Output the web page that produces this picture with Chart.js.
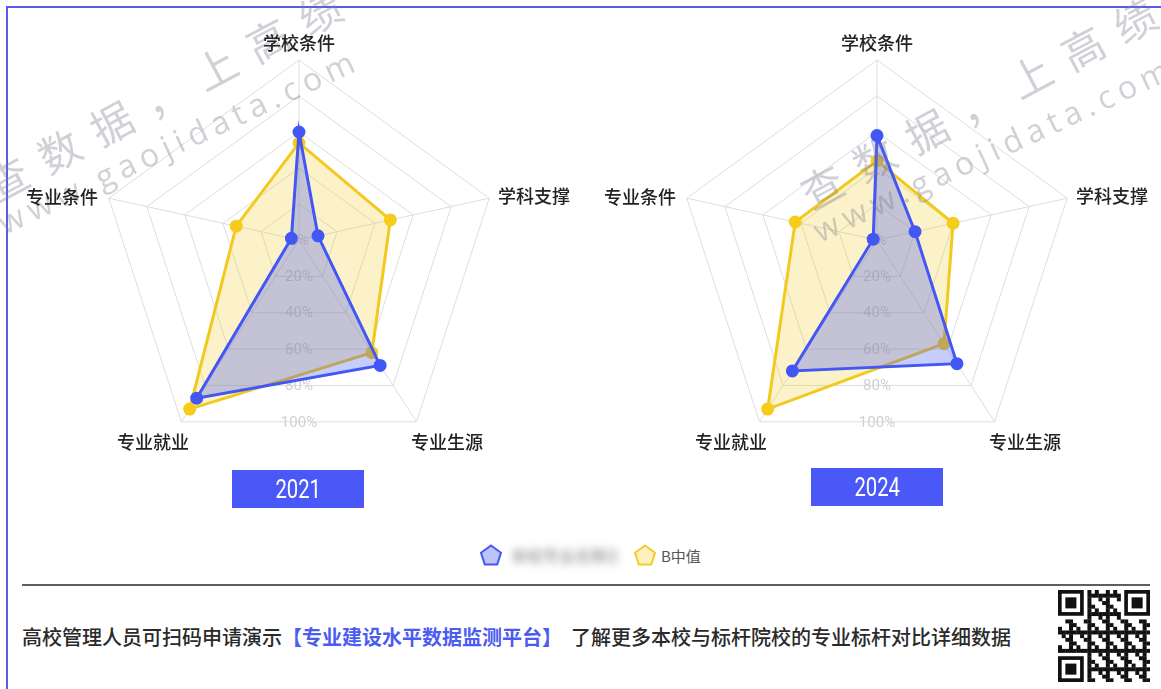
<!DOCTYPE html>
<html lang="zh-CN">
<head>
<meta charset="utf-8">
<title>专业标杆对比</title>
<script src="https://cdn.jsdelivr.net/npm/chart.js@4.4.1/dist/chart.umd.min.js"></script>
<style>
  html, body { margin: 0; padding: 0; background: #fff; }
  body { width: 1161px; height: 689px; position: relative; overflow: hidden;
         font-family: "Noto Sans CJK SC", "Noto Sans", sans-serif; }
  .frame { position: absolute; left: 6px; top: 6px; width: 1170px; height: 720px;
           border: 2px solid #5b5be8; box-sizing: border-box; }
  canvas.radar { position: absolute; top: 40px; }
  .lbl { position: absolute; font-size: 18px; color: #222; white-space: nowrap; line-height: 20px; font-weight: 500; }
  .year { position: absolute; width: 132px; height: 38px; background: #4a58f7; color: #fff;
          font-family: Roboto, sans-serif; font-size: 26px; line-height: 38px; text-align: center; }
  .year span { display: inline-block; transform: scaleX(0.78); }
  .legend { position: absolute; top: 543px; left: 479px; height: 24px; display: flex; align-items: center;
            font-size: 15px; color: #555; }
  .legend svg { display: block; }
  .blur { color: #777; filter: blur(4px); margin: 0 16px 0 8px; width: 106px; font-size: 16px; white-space: nowrap; overflow: hidden; }
  .divider { position: absolute; left: 22px; top: 584px; width: 1128px; height: 2px; background: #5e5e5e; }
  .footer { position: absolute; left: 22px; top: 624px; font-size: 20px; color: #2a2a2a; white-space: nowrap; line-height: 26px; font-weight: 500; }
  .footer b { color: #4b5cf0; font-weight: 700; }
  .footer .rest { margin-left: 9px; }
  .wm { position: absolute; pointer-events: none; color: rgba(125,125,140,0.36); white-space: nowrap; transform-origin: 0 50%; }
  .wm.cn { font-size: 42px; letter-spacing: 17px; line-height: 42px; transform: rotate(-28deg); }
  .wm.url { font-family: "Open Sans", sans-serif; font-size: 32px; letter-spacing: 6px; line-height: 32px; transform: rotate(-25deg); }
  #qr { position: absolute; left: 1058px; top: 590px; }
</style>
</head>
<body>
<div class="frame"></div>

<canvas id="radar2021" class="radar" width="400" height="400" style="left:99px"></canvas>
<canvas id="radar2024" class="radar" width="400" height="400" style="left:677px"></canvas>

<div class="year" style="left:232px; top:470px"><span>2021</span></div>
<div class="year" style="left:811px; top:468px"><span>2024</span></div>

<div class="legend">
  <svg width="24" height="24" viewBox="0 0 24 24"><polygon points="12,2.5 22,9.8 18.2,21.5 5.8,21.5 2,9.8" fill="rgba(66,87,245,0.35)" stroke="#4257f5" stroke-width="2"/></svg>
  <span class="blur">本校专业名称示例</span>
  <svg width="24" height="24" viewBox="0 0 24 24"><polygon points="12,2.5 22,9.8 18.2,21.5 5.8,21.5 2,9.8" fill="rgba(245,205,40,0.3)" stroke="#f2cc2a" stroke-width="2"/></svg>
  <span style="margin-left:4px">B中值</span>
</div>

<div class="divider"></div>
<div class="footer">高校管理人员可扫码申请演示<b>【专业建设水平数据监测平台】</b><span class="rest">了解更多本校与标杆院校的专业标杆对比详细数据</span></div>
<canvas id="qr" width="92" height="92"></canvas>

<div class="wm cn" style="left:-12px; top:166px">查数据，上高绩</div>
<div class="wm url" style="left:0px; top:208px">www.gaojidata.com</div>
<div class="wm cn" style="left:803px; top:174px">查数据，上高绩</div>
<div class="wm url" style="left:815px; top:216px">www.gaojidata.com</div>

<script>
// 维度（顺时针，从顶部开始）
const dimensions = ['学校条件', '学科支撑', '专业生源', '专业就业', '专业条件'];
const tickValues = [0, 20, 40, 60, 80, 100];
const seriesNames = ['本校专业名称', 'B中值'];

// 2021
const school2021 = [60, 10, 69, 87, 4];
const median2021 = [54, 48, 62, 93, 33];
// 2024
const school2024 = [58, 20, 68, 72, 2];
const median2024 = [44, 40, 57, 93, 43];

// 原图的雷达网格中心略靠上，越往外越往下偏
const SKEW = 0.1;
const BaseRadial = Chart.RadialLinearScale || Chart.registry.getScale('radialLinear');
class SkewRadialScale extends BaseRadial {
    getPointPosition(index, distance, additionalAngle) {
        const p = super.getPointPosition(index, distance, additionalAngle || 0);
        return { x: p.x, y: p.y + distance * SKEW, angle: p.angle };
    }
}
SkewRadialScale.id = 'skewRadial';
SkewRadialScale.defaults = BaseRadial.defaults;
Chart.register(SkewRadialScale);

// 刻度文字画在中心正下方
const tickLabelPlugin = {
    id: 'tickLabels',
    beforeDatasetsDraw(chart) {
        const s = chart.scales.r;
        const ctx = chart.ctx;
        ctx.save();
        ctx.font = '15px Roboto, "Noto Sans", sans-serif';
        ctx.fillStyle = '#d0d0d0';
        ctx.textAlign = 'center';
        ctx.textBaseline = 'middle';
        tickValues.forEach(v => {
            const d = s.getDistanceFromCenterForValue(v);
            const a = s.getPointPosition(2, d);
            const b = s.getPointPosition(3, d);
            ctx.fillText(v + '%', (a.x + b.x) / 2, (a.y + b.y) / 2 + 1);
        });
        ctx.restore();
    }
};

// 维度名称相对雷达中心的位置
const labelOffsets = [
    { dx: 0, dy: -198, align: 'center' },
    { dx: 199, dy: -45, align: 'left' },
    { dx: 112, dy: 201, align: 'left' },
    { dx: -110, dy: 201, align: 'right' },
    { dx: -201, dy: -44, align: 'right' }
];

function addLabels(cx, cy) {
    dimensions.forEach((name, i) => {
        const o = labelOffsets[i];
        const el = document.createElement('div');
        el.className = 'lbl';
        el.textContent = name;
        el.style.left = (cx + o.dx) + 'px';
        el.style.top = (cy + o.dy) + 'px';
        const tx = o.align === 'center' ? '-50%' : (o.align === 'right' ? '-100%' : '0');
        el.style.transform = `translate(${tx}, -50%)`;
        document.body.appendChild(el);
    });
}

function drawRadar(id, schoolData, medianData) {
    new Chart(document.getElementById(id), {
        type: 'radar',
        data: {
            labels: dimensions,
            datasets: [{
                label: seriesNames[0],
                data: schoolData,
                borderColor: '#4257f5',
                backgroundColor: 'rgba(66, 87, 245, 0.3)',
                pointBackgroundColor: '#4257f5',
                pointBorderColor: '#4257f5',
                borderWidth: 3,
                pointRadius: 5,
                fill: true,
                clip: false
            }, {
                label: seriesNames[1],
                data: medianData,
                borderColor: '#f2c91e',
                backgroundColor: 'rgba(245, 205, 40, 0.25)',
                pointBackgroundColor: '#f5cc1a',
                pointBorderColor: '#f5cc1a',
                borderWidth: 3,
                pointRadius: 5,
                fill: true,
                clip: false
            }]
        },
        options: {
            responsive: false,
            animation: false,
            elements: { line: { tension: 0 } },
            scales: {
                r: {
                    type: 'skewRadial',
                    min: 0,
                    max: 100,
                    ticks: { stepSize: 20, display: false },
                    grid: { color: '#dddddd', lineWidth: 1 },
                    angleLines: { color: '#dddddd', lineWidth: 1 },
                    pointLabels: { display: false }
                }
            },
            plugins: {
                legend: { display: false },
                tooltip: { enabled: false }
            }
        },
        plugins: [tickLabelPlugin]
    });
}

drawRadar('radar2021', school2021, median2021);
drawRadar('radar2024', school2024, median2024);
addLabels(299, 240);
addLabels(877, 240);

// 二维码示意
(function drawQr() {
    const c = document.getElementById('qr');
    const ctx = c.getContext('2d');
    const n = 25, m = 92 / n;
    ctx.fillStyle = '#fff';
    ctx.fillRect(0, 0, 92, 92);
    ctx.fillStyle = '#111';
    const finder = (x0, y0) => {
        ctx.fillStyle = '#111';
        ctx.fillRect(x0 * m, y0 * m, 7 * m, 7 * m);
        ctx.fillStyle = '#fff';
        ctx.fillRect((x0 + 1) * m, (y0 + 1) * m, 5 * m, 5 * m);
        ctx.fillStyle = '#111';
        ctx.fillRect((x0 + 2) * m, (y0 + 2) * m, 3 * m, 3 * m);
    };
    for (let y = 0; y < n; y++) {
        for (let x = 0; x < n; x++) {
            const inFinder = (x < 8 && y < 8) || (x > 16 && y < 8) || (x < 8 && y > 16);
            if (inFinder) continue;
            if (((x * 7 + y * 11 + x * y * 3) % 5) < 2) ctx.fillRect(x * m, y * m, m + 0.3, m + 0.3);
        }
    }
    finder(0, 0); finder(18, 0); finder(0, 18);
})();
</script>
</body>
</html>
